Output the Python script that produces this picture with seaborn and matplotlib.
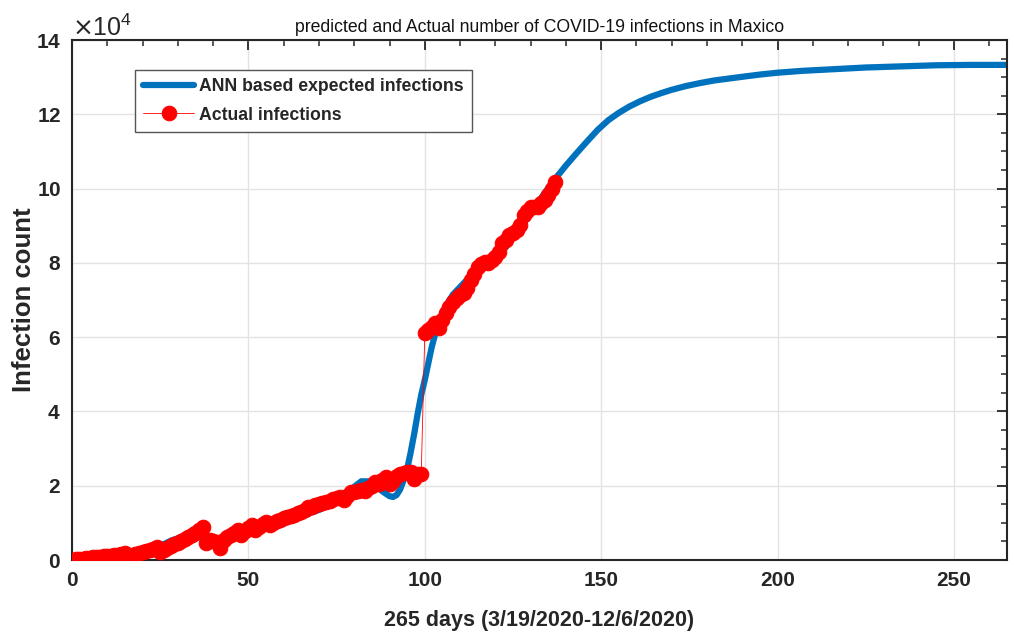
import numpy as np
import pandas as pd
import matplotlib
matplotlib.use("Agg")
import matplotlib.pyplot as plt
from matplotlib.ticker import MultipleLocator, ScalarFormatter
import seaborn as sns

# ANN predicted curve (days, infections in units of 1e4)
ann_days = [0, 5, 10, 15, 20, 25, 28, 31, 34, 37, 40, 43, 46, 50, 55, 58, 61, 64, 67,
            70, 73, 76, 79, 82, 84, 86, 88, 90, 91, 92, 93, 94, 95, 96, 97, 98, 99, 100,
            101, 102, 103, 104, 105, 106, 108, 110, 112, 115, 118, 121, 124, 127, 130,
            133, 136, 140, 143, 146, 149, 152, 155, 158, 161, 164, 167, 170, 174, 178,
            182, 186, 190, 195, 200, 207, 215, 225, 235, 245, 255, 265]
ann_vals = [0.05, 0.05, 0.08, 0.12, 0.20, 0.38, 0.52, 0.62, 0.64, 0.60, 0.52, 0.52, 0.62,
            0.80, 1.02, 1.12, 1.18, 1.20, 1.25, 1.35, 1.48, 1.65, 1.90, 2.12, 2.12, 2.00,
            1.85, 1.72, 1.70, 1.75, 1.90, 2.15, 2.45, 2.90, 3.40, 3.95, 4.45, 4.85, 5.30,
            5.75, 6.10, 6.40, 6.65, 6.85, 7.15, 7.35, 7.55, 7.85, 8.05, 8.20, 8.55, 8.95,
            9.35, 9.75, 10.15, 10.62, 10.95, 11.27, 11.58, 11.84, 12.04, 12.21, 12.35,
            12.47, 12.57, 12.66, 12.76, 12.84, 12.91, 12.96, 13.01, 13.07, 13.12, 13.17,
            13.21, 13.26, 13.29, 13.32, 13.33, 13.33]

# Actual infections, days 1..137 (units of 1e4)
act_days = list(range(1, 138))
act_vals = [0.02, 0.03, 0.04, 0.05, 0.06, 0.07, 0.08, 0.09, 0.10, 0.11,
            0.12, 0.13, 0.14, 0.16, 0.18, 0.10, 0.12, 0.15, 0.18, 0.21,
            0.24, 0.27, 0.31, 0.36, 0.22, 0.28, 0.33, 0.37, 0.42, 0.47,
            0.52, 0.57, 0.62, 0.67, 0.73, 0.80, 0.88, 0.45, 0.55, 0.52,
            0.48, 0.32, 0.55, 0.63, 0.68, 0.72, 0.82, 0.67, 0.78, 0.85,
            0.94, 0.82, 0.90, 0.96, 1.03, 0.94, 1.00, 1.06, 1.08, 1.12,
            1.15, 1.18, 1.22, 1.26, 1.30, 1.35, 1.44, 1.42, 1.47, 1.50,
            1.53, 1.56, 1.60, 1.64, 1.66, 1.70, 1.62, 1.72, 1.84, 1.82,
            1.86, 1.88, 1.86, 1.95, 2.00, 2.10, 2.05, 2.15, 2.24, 2.06,
            2.12, 2.25, 2.33, 2.35, 2.36, 2.38, 2.18, 2.32, 2.33,
            6.10, 6.20, 6.28, 6.37, 6.25, 6.45, 6.65, 6.82, 6.95, 7.05,
            7.13, 7.20, 7.32, 7.54, 7.70, 7.90, 7.98, 8.03, 8.00, 8.08,
            8.17, 8.30, 8.53, 8.62, 8.75, 8.80, 8.88, 9.02, 9.29, 9.40,
            9.51, 9.50, 9.51, 9.60, 9.70, 9.83, 10.00, 10.18]

title = "predicted and Actual number of COVID-19 infections in Maxico"
xlabel = "265 days (3/19/2020-12/6/2020)"
ylabel = "Infection count"
labels = ["ANN based expected infections", "Actual infections"]

sns.set_style("white")
plt.rcParams['font.family'] = ['Liberation Sans', 'DejaVu Sans']

ann_df = pd.DataFrame({"day": ann_days, "count": np.array(ann_vals) * 1e4})
act_df = pd.DataFrame({"day": act_days, "count": np.array(act_vals) * 1e4})

fig = plt.figure(figsize=(10.14, 6.35), dpi=100)
ax = fig.add_axes([0.071, 0.118, 0.922, 0.819])

sns.lineplot(data=ann_df, x="day", y="count", ax=ax, color="#0072BD", lw=4.5,
             label=labels[0], zorder=2)
sns.lineplot(data=act_df, x="day", y="count", ax=ax, color="red", lw=0.6,
             marker="o", markersize=10.5, markeredgecolor="red", markerfacecolor="red",
             label=labels[1], zorder=3)

ax.set_xlim(0, 265)
ax.set_ylim(0, 14e4)
ax.xaxis.set_major_locator(MultipleLocator(50))
ax.xaxis.set_minor_locator(MultipleLocator(10))
ax.yaxis.set_major_locator(MultipleLocator(2e4))
ax.yaxis.set_minor_locator(MultipleLocator(0.5e4))
fmt = ScalarFormatter(useMathText=True)
fmt.set_powerlimits((4, 4))
ax.yaxis.set_major_formatter(fmt)
ax.yaxis.get_offset_text().set_fontsize(18)
ax.yaxis.get_offset_text().set_color("#262626")

ax.grid(True, which="major", color="#e3e3e3", lw=1.0)
ax.set_axisbelow(True)
ax.tick_params(which="both", direction="in", top=True, right=True, color="#262626")
ax.tick_params(which="major", length=7, width=1.3, labelsize=15, pad=8)
ax.tick_params(which="minor", length=4, width=1.1)
for lbl in ax.get_xticklabels() + ax.get_yticklabels():
    lbl.set_fontweight("bold")
    lbl.set_color("#262626")
for s in ax.spines.values():
    s.set_color("#262626")
    s.set_linewidth(1.5)

ax.set_title(title, fontsize=12.7, color="#111111", pad=6)
ax.set_xlabel(xlabel, fontsize=15.5, fontweight="bold", color="#262626", labelpad=14)
ax.set_ylabel(ylabel, fontsize=18.5, fontweight="bold", color="#262626")
ax.yaxis.set_label_coords(-0.038, 0.5)

leg = ax.legend(loc="upper left", bbox_to_anchor=(0.0674, 0.942), borderaxespad=0,
                frameon=True, fancybox=False, edgecolor="#555555", framealpha=1,
                prop={"weight": "bold", "size": 12.7}, handlelength=2.9,
                borderpad=0.45, labelspacing=0.65, handletextpad=0.3)
leg.get_frame().set_linewidth(1.0)

fig.savefig("out.png", dpi=100)
